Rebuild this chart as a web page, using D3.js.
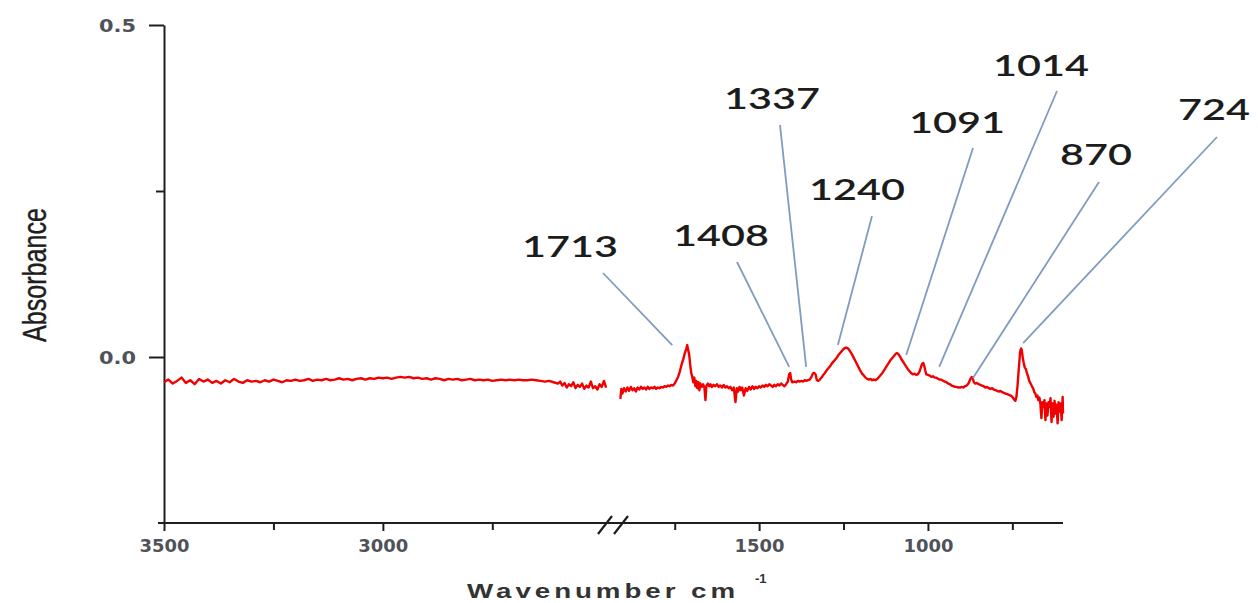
<!DOCTYPE html>
<html>
<head>
<meta charset="utf-8">
<script src="https://cdn.jsdelivr.net/npm/d3@7"></script>
<style>
  html, body { margin: 0; padding: 0; background: #fff; }
  svg { display: block; }
</style>
</head>
<body>
<svg id="chart" width="1258" height="603"></svg>
<script>
// FTIR spectrum: [wavenumber (cm-1), absorbance]
const highWavenumberBand = [
  [3500,-0.038],[3490,-0.034],[3480,-0.040],[3470,-0.036],[3460,-0.031],[3450,-0.039],
  [3440,-0.035],[3430,-0.041],[3420,-0.033],[3410,-0.037],[3400,-0.034],[3390,-0.039],
  [3380,-0.036],[3370,-0.040],[3360,-0.035],[3350,-0.038],[3340,-0.033],[3330,-0.037],
  [3320,-0.039],[3310,-0.035],[3300,-0.037],[3290,-0.036],[3280,-0.038],[3270,-0.035],
  [3260,-0.037],[3250,-0.034],[3240,-0.036],[3230,-0.038],[3220,-0.035],[3210,-0.036],
  [3200,-0.034],[3190,-0.036],[3180,-0.035],[3170,-0.033],[3160,-0.036],[3150,-0.034],
  [3140,-0.035],[3130,-0.033],[3120,-0.035],[3110,-0.034],[3100,-0.032],[3090,-0.034],
  [3080,-0.033],[3070,-0.035],[3060,-0.033],[3050,-0.032],[3040,-0.034],[3030,-0.032],
  [3020,-0.033],[3010,-0.031],[3000,-0.032],[2990,-0.031],[2980,-0.033],[2970,-0.031],
  [2960,-0.030],[2950,-0.031],[2940,-0.030],[2930,-0.032],[2920,-0.031],[2910,-0.033],
  [2900,-0.032],[2890,-0.034],[2880,-0.032],[2870,-0.033],[2860,-0.035],[2850,-0.033],
  [2840,-0.034],[2830,-0.033],[2820,-0.035],[2810,-0.034],[2800,-0.033],[2790,-0.035],
  [2780,-0.034],[2770,-0.035],[2760,-0.034],[2750,-0.036],[2740,-0.035],[2730,-0.034],
  [2720,-0.035],[2710,-0.034],[2700,-0.035],[2690,-0.034],[2680,-0.035],[2670,-0.035],
  [2660,-0.034],[2650,-0.035],[2640,-0.036],[2630,-0.037],[2620,-0.036],[2610,-0.038],
  [2600,-0.040],[2595,-0.037],[2590,-0.043],[2585,-0.039],[2580,-0.046],[2575,-0.041],
  [2570,-0.044],[2565,-0.038],[2560,-0.047],[2555,-0.042],[2550,-0.045],[2545,-0.040],
  [2540,-0.048],[2535,-0.043],[2530,-0.046],[2525,-0.037],[2520,-0.047],[2515,-0.044],
  [2510,-0.049],[2505,-0.041],[2500,-0.045],[2495,-0.036],[2490,-0.046]
];

const fingerprintBand = [
  [1911,-0.063],[1908,-0.048],[1905,-0.055],[1900,-0.047],[1895,-0.052],[1890,-0.046],
  [1885,-0.051],[1880,-0.045],[1875,-0.050],[1870,-0.047],[1865,-0.052],[1860,-0.046],
  [1855,-0.049],[1850,-0.045],[1845,-0.048],[1840,-0.046],[1835,-0.049],[1830,-0.045],
  [1825,-0.048],[1820,-0.046],[1815,-0.047],[1810,-0.045],[1805,-0.048],[1800,-0.046],
  [1795,-0.047],[1790,-0.045],[1785,-0.046],[1780,-0.044],[1775,-0.045],[1770,-0.043],
  [1765,-0.044],[1760,-0.042],[1755,-0.043],[1750,-0.040],[1745,-0.035],[1740,-0.030],
  [1735,-0.022],[1730,-0.012],[1725,-0.004],[1720,0.006],[1716,0.012],[1713,0.018],
  [1710,0.010],[1707,0.003],[1704,-0.012],[1701,-0.024],[1698,-0.030],[1695,-0.038],
  [1692,-0.031],[1689,-0.044],[1686,-0.036],[1683,-0.047],[1680,-0.038],[1677,-0.050],
  [1674,-0.040],[1670,-0.045],[1666,-0.041],[1662,-0.046],[1659,-0.065],[1656,-0.043],
  [1652,-0.040],[1648,-0.044],[1644,-0.041],[1640,-0.045],[1635,-0.042],[1630,-0.044],
  [1625,-0.041],[1620,-0.045],[1615,-0.043],[1610,-0.046],[1605,-0.042],[1600,-0.046],
  [1595,-0.044],[1590,-0.047],[1585,-0.045],[1580,-0.050],[1575,-0.046],[1570,-0.068],
  [1566,-0.047],[1562,-0.052],[1558,-0.045],[1554,-0.050],[1550,-0.046],[1545,-0.058],
  [1540,-0.047],[1535,-0.051],[1530,-0.045],[1525,-0.049],[1520,-0.044],[1515,-0.048],
  [1510,-0.045],[1505,-0.047],[1500,-0.044],[1495,-0.046],[1490,-0.043],[1485,-0.045],
  [1480,-0.042],[1475,-0.044],[1470,-0.041],[1465,-0.043],[1460,-0.045],[1455,-0.042],
  [1450,-0.044],[1445,-0.041],[1440,-0.043],[1435,-0.040],[1430,-0.042],[1425,-0.044],
  [1420,-0.041],[1415,-0.037],[1411,-0.026],[1408,-0.024],[1405,-0.034],[1402,-0.038],
  [1395,-0.037],[1390,-0.038],[1385,-0.036],[1380,-0.037],[1375,-0.036],[1370,-0.037],
  [1365,-0.035],[1360,-0.036],[1355,-0.035],[1350,-0.034],[1345,-0.030],[1341,-0.025],
  [1337,-0.024],[1333,-0.026],[1329,-0.035],[1325,-0.036],[1320,-0.034],[1315,-0.031],
  [1310,-0.027],[1305,-0.024],[1300,-0.020],[1295,-0.017],[1290,-0.014],[1285,-0.010],
  [1280,-0.007],[1275,-0.004],[1270,-0.001],[1265,0.003],[1260,0.006],[1255,0.009],
  [1250,0.012],[1245,0.014],[1240,0.014],[1235,0.012],[1230,0.008],[1225,0.004],
  [1220,-0.001],[1215,-0.006],[1210,-0.011],[1205,-0.016],[1200,-0.021],[1195,-0.025],
  [1190,-0.028],[1185,-0.031],[1180,-0.033],[1175,-0.034],[1170,-0.033],[1165,-0.035],
  [1160,-0.034],[1155,-0.035],[1150,-0.033],[1145,-0.030],[1140,-0.027],[1135,-0.024],
  [1130,-0.020],[1125,-0.016],[1120,-0.012],[1115,-0.008],[1110,-0.004],[1105,-0.001],
  [1100,0.002],[1095,0.005],[1091,0.006],[1087,0.004],[1083,0.001],[1079,-0.003],
  [1075,-0.006],[1070,-0.010],[1065,-0.014],[1060,-0.018],[1055,-0.021],[1050,-0.024],
  [1045,-0.026],[1040,-0.025],[1035,-0.027],[1030,-0.026],[1025,-0.022],[1020,-0.014],
  [1017,-0.010],[1014,-0.009],[1011,-0.013],[1008,-0.020],[1005,-0.026],[1000,-0.027],
  [995,-0.028],[990,-0.030],[985,-0.029],[980,-0.031],[975,-0.031],[970,-0.033],
  [965,-0.034],[960,-0.034],[955,-0.036],[950,-0.037],[945,-0.038],[940,-0.040],
  [935,-0.041],[930,-0.043],[925,-0.044],[920,-0.045],[915,-0.045],[910,-0.046],
  [905,-0.046],[900,-0.045],[895,-0.046],[890,-0.044],[885,-0.043],[880,-0.040],
  [875,-0.034],[872,-0.031],[870,-0.030],[867,-0.033],[864,-0.038],[860,-0.040],
  [855,-0.039],[850,-0.041],[845,-0.042],[840,-0.043],[835,-0.044],[830,-0.046],
  [825,-0.045],[820,-0.047],[815,-0.048],[810,-0.047],[805,-0.049],[800,-0.050],
  [795,-0.051],[790,-0.052],[785,-0.051],[780,-0.053],[775,-0.054],[770,-0.055],
  [765,-0.056],[760,-0.057],[755,-0.058],[750,-0.060],[745,-0.064],[741,-0.066],
  [738,-0.060],[735,-0.045],[732,-0.025],[729,-0.005],[727,0.008],[724,0.013],
  [722,0.010],[719,-0.002],[716,-0.010],[713,-0.016],[710,-0.018],[707,-0.024],
  [703,-0.030],[700,-0.036],[696,-0.040],[692,-0.044],[688,-0.048],[685,-0.053],
  [682,-0.055],[679,-0.060],[676,-0.058],[673,-0.065],[670,-0.061],[667,-0.070],
  [664,-0.092],[661,-0.068],[658,-0.075],[655,-0.065],[652,-0.095],[649,-0.070],
  [646,-0.088],[643,-0.068],[640,-0.075],[637,-0.062],[634,-0.098],[631,-0.070],
  [628,-0.090],[625,-0.066],[622,-0.085],[619,-0.072],[616,-0.100],[613,-0.068],
  [610,-0.082],[607,-0.070],[604,-0.095],[601,-0.060],[600,-0.085]
];

// Assigned bands and the absorbance where each leader line meets the trace
const peakLabels = [1713, 1408, 1337, 1240, 1091, 1014, 870, 724];
const leaderTipAbsorbance = [0.018, -0.015, -0.015, 0.018, 0.003, -0.015, -0.032, 0.021];

// Axis ticks
const yMajorTicks = [0, 0.5];
const yMinorTicks = [0.25];
const xLeftMajorTicks = [3500, 3000];
const xLeftMinorTicks = [3250, 2750];
const xRightMajorTicks = [1500, 1000];
const xRightMinorTicks = [1750, 1250, 750];

// Where each band label sits and where its leader line starts (pixels)
const labelLayout = [
  { x: 570,  y: 257, topX: 603,  topY: 273, dx: -15 },
  { x: 721,  y: 246, topX: 737,  topY: 262, dx: -1 },
  { x: 772,  y: 109, topX: 780,  topY: 125, dx: -8 },
  { x: 857,  y: 200, topX: 872,  topY: 216, dx: -9 },
  { x: 957,  y: 133, topX: 973,  topY: 148, dx: 9 },
  { x: 1041, y: 76,  topX: 1057, topY: 91,  dx: 16 },
  { x: 1096, y: 165, topX: 1099, topY: 182, dx: 1 },
  { x: 1214, y: 120, topX: 1217, topY: 137, dx: 2 }
];

const svg = d3.select("#chart");

const y = d3.scaleLinear().domain([-0.25, 0.5]).range([523, 25]);
// Broken wavenumber axis: two linear pieces
const xLeft = d3.scaleLinear().domain([3500, 2488]).range([164, 607]);
const xRight = d3.scaleLinear().domain([1915, 600]).range([619, 1063]);
const axisY = y(-0.25);

const tickFont = "'DejaVu Sans', Verdana, sans-serif";
const tickColor = "#505259";
const axisColor = "#1e1e1e";

// ---- Y axis ----
const gy = svg.append("g").attr("transform", `translate(${xLeft(3500)},0)`);
gy.call(d3.axisLeft(y).tickValues(yMajorTicks).tickSize(15).tickSizeOuter(0)
  .tickFormat(d3.format(".1f")));
gy.append("g").call(d3.axisLeft(y).tickValues(yMinorTicks).tickSize(8).tickFormat(""))
  .select(".domain").remove();
gy.selectAll("path, line").attr("stroke", axisColor).attr("stroke-width", 2);
gy.selectAll("text")
  .attr("font-family", tickFont).attr("font-weight", "bold").attr("font-size", 18)
  .attr("fill", tickColor).attr("x", -28).attr("dy", "0.36em")
  .attr("textLength", 37).attr("lengthAdjust", "spacingAndGlyphs");

// ---- X axis (two scales sharing one baseline) ----
function bottomAxis(scale, major, minor) {
  const g = svg.append("g").attr("transform", `translate(0,${axisY})`);
  g.call(d3.axisBottom(scale).tickValues(major).tickSize(8).tickFormat(d3.format("d")));
  g.append("g").call(d3.axisBottom(scale).tickValues(minor).tickSize(7).tickFormat(""));
  g.selectAll(".domain").remove();
  g.selectAll("line").attr("stroke", axisColor).attr("stroke-width", 2);
  g.selectAll("text")
    .attr("font-family", tickFont).attr("font-weight", "bold").attr("font-size", 18)
    .attr("fill", tickColor).attr("y", 16)
    .attr("textLength", 50).attr("lengthAdjust", "spacingAndGlyphs");
  return g;
}
bottomAxis(xLeft, xLeftMajorTicks, xLeftMinorTicks);
bottomAxis(xRight, xRightMajorTicks, xRightMinorTicks);

svg.append("line")
  .attr("x1", xLeft.range()[0] - 6).attr("x2", xRight.range()[1])
  .attr("y1", axisY).attr("y2", axisY)
  .attr("stroke", axisColor).attr("stroke-width", 2);

// Axis break marks
const breakX = (xLeft.range()[1] + xRight.range()[0]) / 2;
[-8, 8].forEach(off => {
  svg.append("line")
    .attr("x1", breakX + off - 7).attr("y1", axisY + 11)
    .attr("x2", breakX + off + 7).attr("y2", axisY - 7)
    .attr("stroke", axisColor).attr("stroke-width", 2.2);
});

// ---- Axis titles ----
svg.append("text")
  .attr("transform", "translate(46,275) rotate(-90)")
  .attr("text-anchor", "middle")
  .attr("font-family", "'Liberation Sans', Arial, sans-serif")
  .attr("font-size", 33).attr("fill", "#1e1e1e")
  .attr("stroke", "#1e1e1e").attr("stroke-width", 0.4)
  .attr("textLength", 134).attr("lengthAdjust", "spacingAndGlyphs")
  .text("Absorbance");

svg.append("text")
  .attr("x", 467).attr("y", 598)
  .attr("font-family", "'Liberation Sans', Arial, sans-serif")
  .attr("font-weight", "bold").attr("font-size", 21).attr("fill", "#333")
  .attr("letter-spacing", 3)
  .attr("textLength", 272).attr("lengthAdjust", "spacingAndGlyphs")
  .text("Wavenumber cm");
svg.append("text")
  .attr("x", 755).attr("y", 583)
  .attr("font-family", "'Liberation Sans', Arial, sans-serif")
  .attr("font-weight", "bold").attr("font-size", 13).attr("fill", "#333")
  .text("-1");

// ---- Spectrum ----
const lineLeft = d3.line().x(d => xLeft(d[0])).y(d => y(d[1]));
const lineRight = d3.line().x(d => xRight(d[0])).y(d => y(d[1]));

svg.append("path").datum(highWavenumberBand)
  .attr("d", lineLeft).attr("fill", "none")
  .attr("stroke", "#f00000").attr("stroke-width", 2.4).attr("stroke-linejoin", "round");
svg.append("path").datum(fingerprintBand)
  .attr("d", lineRight).attr("fill", "none")
  .attr("stroke", "#f00000").attr("stroke-width", 2.4).attr("stroke-linejoin", "round");

// ---- Band annotations ----
const ann = svg.append("g");
peakLabels.forEach((wn, i) => {
  const L = labelLayout[i];
  ann.append("line")
    .attr("x1", L.topX).attr("y1", L.topY)
    .attr("x2", xRight(wn) + L.dx).attr("y2", y(leaderTipAbsorbance[i]))
    .attr("stroke", "#7f9cc0").attr("stroke-width", 1.8);
  const txt = String(wn);
  ann.append("text")
    .attr("x", L.x).attr("y", L.y)
    .attr("text-anchor", "middle")
    .attr("font-family", "Lato, 'Open Sans', sans-serif")
    .attr("font-size", 28).attr("font-weight", 600).attr("fill", "#1c1c1c")
    .attr("textLength", txt.length * 24).attr("lengthAdjust", "spacingAndGlyphs")
    .text(txt);
});
</script>
</body>
</html>
